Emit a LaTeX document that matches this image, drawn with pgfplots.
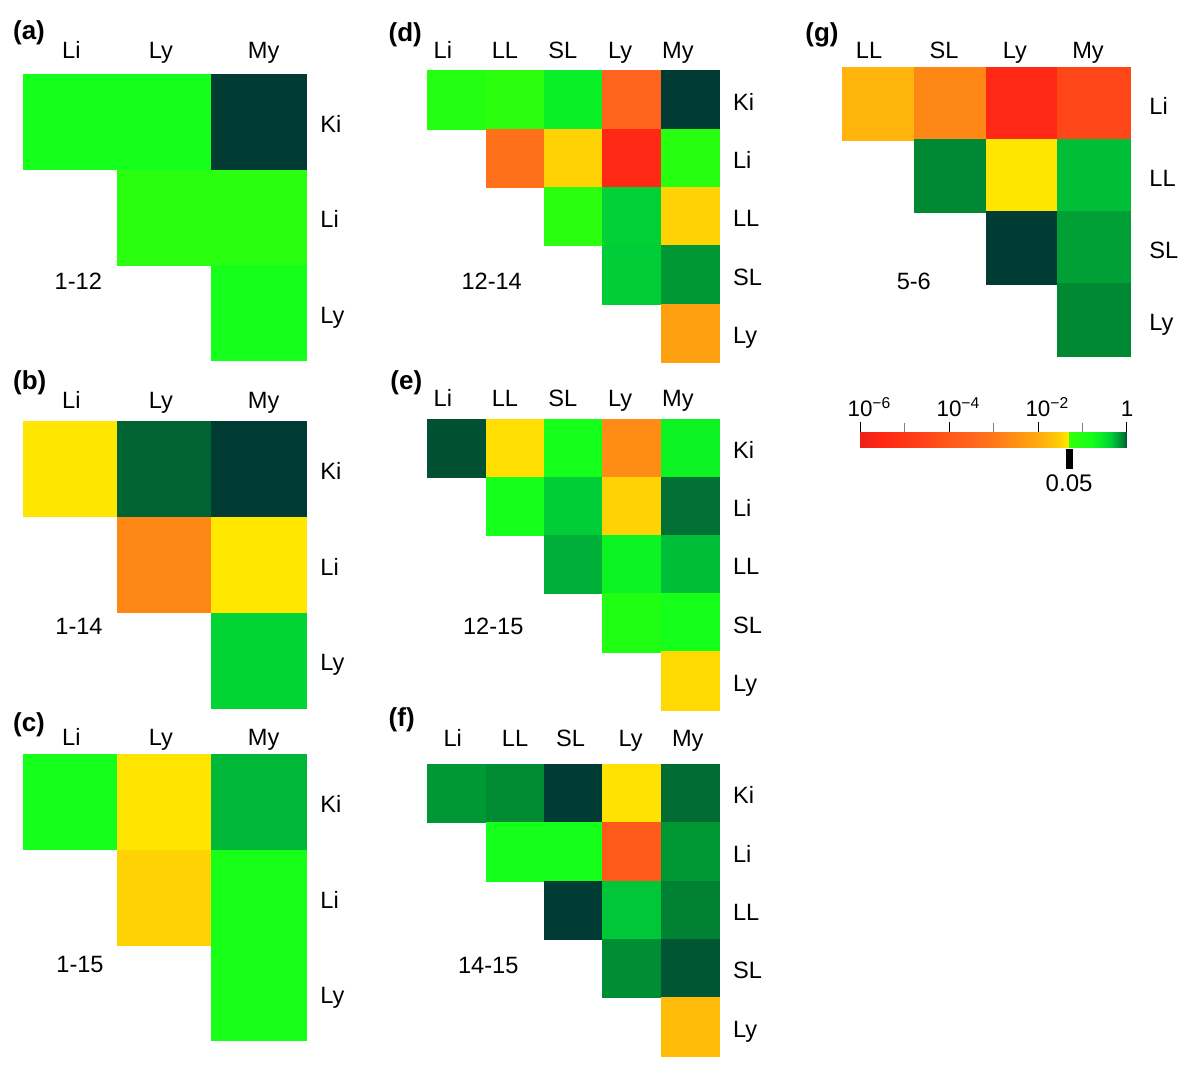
\documentclass[border=0pt]{standalone}
\usepackage{fontspec}
\setmainfont{Liberation Sans}
\usepackage{pgfplots}
\pgfplotsset{compat=1.18}
\pgfplotsset{
  colormap={pv}{
    rgb255(0pt)=(235,35,25);
    rgb255(50pt)=(255,40,20);
    rgb255(150pt)=(255,70,25);
    rgb255(200pt)=(255,90,25);
    rgb255(250pt)=(255,100,30);
    rgb255(300pt)=(255,120,25);
    rgb255(350pt)=(255,145,20);
    rgb255(400pt)=(255,170,15);
    rgb255(440pt)=(255,200,5);
    rgb255(469pt)=(255,232,0);
    rgb255(470pt)=(50,255,10);
    rgb255(520pt)=(20,255,25);
    rgb255(540pt)=(10,240,40);
    rgb255(565pt)=(0,205,55);
    rgb255(580pt)=(0,160,55);
    rgb255(590pt)=(0,130,50);
    rgb255(597pt)=(0,90,50);
    rgb255(600pt)=(0,60,52)
  },
  panel/.style={anchor=south west, scale only axis, clip=false, colormap name=pv,
    point meta min=-6, point meta max=0, y dir=reverse,
    axis line style={draw=none}, tick style={draw=none}, major tick length=0pt,
    xticklabel pos=right, yticklabel pos=right,
    tick label style={font=\fontsize{11.8}{14}\selectfont, inner sep=0pt},
    xticklabel style={anchor=base},
    yticklabel style={anchor=west, text height=8.4pt, text depth=0pt, yshift=-1pt}},
  cells/.style={scatter, only marks, mark=square*, point meta=explicit,
    scatter/use mapped color={draw=mapped color, fill=mapped color}, line width=0.3pt}
}
\begin{document}
\begin{tikzpicture}
\path[use as bounding box] (0,0) rectangle (600pt,536pt);
% (a)
\begin{axis}[panel, at={(11.65pt,355.5pt)}, width=141.35pt, height=143.5pt,
  xmin=-0.5,xmax=2.5,ymin=-0.5,ymax=2.5, xtick={0.01,0.96,2.05}, ytick={0,1,2},
  xticklabels={Li,Ly,My}, yticklabels={Ki,Li,Ly},
  xticklabel style={yshift=7.85pt}, yticklabel style={xshift=7pt}]
\addplot[cells, mark size=23.7pt] table[meta=p]{
x y p
0 0 -0.8
1 0 -0.8
2 0 0
1 1 -1.15
2 1 -1.15
2 2 -0.8
};
\end{axis}
% (b)
\begin{axis}[panel, at={(11.65pt,181.85pt)}, width=141.35pt, height=143.65pt,
  xmin=-0.5,xmax=2.5,ymin=-0.5,ymax=2.5, xtick={0.01,0.96,2.05}, ytick={0,1,2},
  xticklabels={Li,Ly,My}, yticklabels={Ki,Li,Ly},
  xticklabel style={yshift=6.35pt}, yticklabel style={xshift=7pt}]
\addplot[cells, mark size=23.7pt] table[meta=p]{
x y p
0 0 -1.33
1 0 -0.05
2 0 0
1 1 -2.7
2 1 -1.32
2 2 -0.4
};
\end{axis}
% (c)
\begin{axis}[panel, at={(11.65pt,15.5pt)}, width=141.35pt, height=143.35pt,
  xmin=-0.5,xmax=2.5,ymin=-0.5,ymax=2.5, xtick={0.01,0.96,2.05}, ytick={0,1,2},
  xticklabels={Li,Ly,My}, yticklabels={Ki,Li,Ly},
  xticklabel style={yshift=4.65pt}, yticklabel style={xshift=7pt}]
\addplot[cells, mark size=23.7pt] table[meta=p]{
x y p
0 0 -0.8
1 0 -1.35
2 0 -0.28
1 1 -1.5
2 1 -0.85
2 2 -0.85
};
\end{axis}
% (d)
\begin{axis}[panel, at={(213.85pt,354.85pt)}, width=145.8pt, height=145.8pt,
  xmin=-0.5,xmax=4.5,ymin=-0.5,ymax=4.5, xtick={-0.24,0.825,1.815,2.8,3.79}, ytick={0,...,4},
  xticklabels={Li,LL,SL,Ly,My}, yticklabels={Ki,Li,LL,SL,Ly},
  xticklabel style={yshift=6.3pt}, yticklabel style={xshift=6.7pt}]
\addplot[cells, mark size=14.6pt] table[meta=p]{
x y p
0 0 -1.05
1 0 -1.2
2 0 -0.6
3 0 -3.5
4 0 0
1 1 -3.2
2 1 -1.5
3 1 -5.5
4 1 -1.1
2 2 -1.15
3 2 -0.38
4 2 -1.5
3 3 -0.35
4 3 -0.17
4 4 -2.2
};
\end{axis}
% (e)
\begin{axis}[panel, at={(213.85pt,181pt)}, width=145.8pt, height=145.5pt,
  xmin=-0.5,xmax=4.5,ymin=-0.5,ymax=4.5, xtick={-0.24,0.825,1.815,2.8,3.79}, ytick={0,...,4},
  xticklabels={Li,LL,SL,Ly,My}, yticklabels={Ki,Li,LL,SL,Ly},
  xticklabel style={yshift=6.2pt}, yticklabel style={xshift=6.7pt}]
\addplot[cells, mark size=14.6pt] table[meta=p]{
x y p
0 0 -0.02
1 0 -1.4
2 0 -0.8
3 0 -2.6
4 0 -0.65
1 1 -0.8
2 1 -0.36
3 1 -1.5
4 1 -0.07
2 2 -0.25
3 2 -0.65
4 2 -0.3
3 3 -1.0
4 3 -0.8
4 4 -1.45
};
\end{axis}
% (f)
\begin{axis}[panel, at={(213.85pt,8pt)}, width=145.8pt, height=145.85pt,
  xmin=-0.5,xmax=4.5,ymin=-0.5,ymax=4.5, xtick={-0.07,0.997,1.95,2.98,3.96}, ytick={0,...,4},
  xticklabels={Li,LL,SL,Ly,My}, yticklabels={Ki,Li,LL,SL,Ly},
  xticklabel style={yshift=8.8pt}, yticklabel style={xshift=6.7pt}]
\addplot[cells, mark size=14.6pt] table[meta=p]{
x y p
0 0 -0.17
1 0 -0.13
2 0 0
3 0 -1.36
4 0 -0.06
1 1 -0.8
2 1 -0.8
3 1 -4.0
4 1 -0.17
2 2 0
3 2 -0.33
4 2 -0.1
3 3 -0.14
4 3 -0.025
4 4 -1.75
};
\end{axis}
% (g)
\begin{axis}[panel, at={(421pt,358.15pt)}, width=144pt, height=144pt,
  xmin=-0.5,xmax=3.5,ymin=-0.5,ymax=3.5, xtick={-0.125,0.917,1.903,2.917}, ytick={0,...,3},
  xticklabels={LL,SL,Ly,My}, yticklabels={Li,LL,SL,Ly},
  xticklabel style={yshift=4.7pt}, yticklabel style={xshift=9.5pt}]
\addplot[cells, mark size=18.1pt] table[meta=p]{
x y p
0 0 -1.85
1 0 -2.7
2 0 -5.5
3 0 -4.5
1 1 -0.12
2 1 -1.33
3 1 -0.3
2 2 0
3 2 -0.2
3 3 -0.12
};
\end{axis}
% colour bar, drawn as its own axis
\begin{axis}[anchor=south west, at={(430pt,312.35pt)}, scale only axis,
  width=133.5pt, height=7.8pt, xmin=-6, xmax=0, ymin=0, ymax=1, clip=false,
  axis line style={draw=none}, ytick=\empty,
  colormap name=pv, point meta min=-6, point meta max=0,
  xtick={-6,-4,-2,0}, minor xtick={-5,-3,-1},
  xticklabels={10\rlap{\textsuperscript{−6}},10\rlap{\textsuperscript{−4}},10\rlap{\textsuperscript{−2}},1},
  xtick pos=right, xticklabel pos=right, tick align=outside,
  major tick length=5pt, minor tick length=4.5pt,
  every major tick/.append style={black, line width=0.5pt},
  every minor tick/.append style={gray, line width=0.5pt},
  xticklabel style={font=\fontsize{11.2}{13}\selectfont, inner sep=0pt, anchor=base, yshift=2.5pt}]
\addplot[surf, shader=interp, mesh/rows=2, point meta=x] coordinates {
(-6,0) (-5.5,0) (-4.5,0) (-4,0) (-3.5,0) (-3,0) (-2.5,0) (-2,0) (-1.6,0) (-1.31,0) (-1.30,0) (-0.8,0) (-0.6,0) (-0.35,0) (-0.2,0) (-0.1,0) (-0.03,0) (0,0)
(-6,1) (-5.5,1) (-4.5,1) (-4,1) (-3.5,1) (-3,1) (-2.5,1) (-2,1) (-1.6,1) (-1.31,1) (-1.30,1) (-0.8,1) (-0.6,1) (-0.35,1) (-0.2,1) (-0.1,1) (-0.03,1) (0,1)
};
\fill[black] ([xshift=-1.75pt,yshift=-1pt]axis cs:-1.30103,0) rectangle ([xshift=1.75pt,yshift=-11pt]axis cs:-1.30103,0);
\node[anchor=base, font=\fontsize{12}{14}\selectfont, inner sep=0pt] at ([yshift=-22.2pt]axis cs:-1.30103,0) {0.05};
\end{axis}
% panel letters
\begin{scope}[every node/.style={anchor=base west, inner sep=0pt, font=\bfseries\fontsize{13}{15}\selectfont}]
\node at (6.35pt,516pt) {(a)};
\node at (6.35pt,341pt) {(b)};
\node at (6.35pt,170.15pt) {(c)};
\node at (194.15pt,515.15pt) {(d)};
\node at (195pt,341pt) {(e)};
\node at (194.15pt,172.65pt) {(f)};
\node at (402.5pt,515.15pt) {(g)};
\end{scope}
% comparison labels
\begin{scope}[every node/.style={anchor=base, inner sep=0pt, font=\fontsize{11.8}{14}\selectfont}]
\node at (39.15pt,391pt) {1-12};
\node at (39.5pt,218.5pt) {1-14};
\node at (40pt,49.65pt) {1-15};
\node at (245.85pt,391.35pt) {12-14};
\node at (246.65pt,218.5pt) {12-15};
\node at (244.15pt,49.35pt) {14-15};
\node at (456.9pt,391.35pt) {5-6};
\end{scope}
\end{tikzpicture}
\end{document}
